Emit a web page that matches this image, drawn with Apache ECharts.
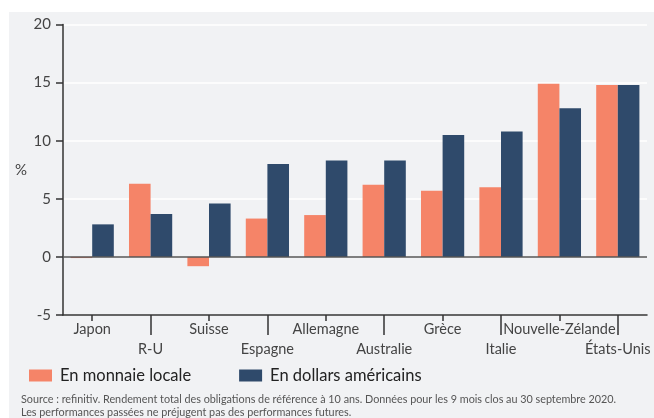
<!DOCTYPE html>
<html>
<head>
<meta charset="utf-8">
<script src="https://cdn.jsdelivr.net/npm/echarts@6/dist/echarts.min.js"></script>
<style>
    html, body { margin: 0; padding: 0; background: #fff; }
    #chart { width: 654px; height: 418px; }
</style>
</head>
<body>
<div id="chart"></div>
<script>
    // données (en %)
    var pays = ['Japon', 'R-U', 'Suisse', 'Espagne', 'Allemagne', 'Australie', 'Grèce', 'Italie', 'Nouvelle-Zélande', 'États-Unis'];
    var monnaieLocale = [-0.1, 6.3, -0.8, 3.3, 3.6, 6.2, 5.7, 6.0, 14.9, 14.8];
    var dollarsUS = [2.8, 3.7, 4.6, 8.0, 8.3, 8.3, 10.5, 10.8, 12.8, 14.8];
    var yTicks = [-5, 0, 5, 10, 15, 20];
    var nomsSeries = ['En monnaie locale', 'En dollars américains'];

    var police = 'Lato, "Noto Sans", sans-serif';
    var pair = function (i) { return i % 2 === 0; };
    var impair = function (i) { return i % 2 === 1; };
    var traitTick = { color: '#333', width: 1.5 };

    var myChart = echarts.init(document.getElementById('chart'));
    var option = {
        animation: false,
        textStyle: { fontFamily: police },
        graphic: [
            {
                type: 'rect', z: -10,
                shape: { x: 9, y: 12, width: 645, height: 406 },
                style: { fill: '#f1f2f4' }
            },
            {
                type: 'text', left: 21, top: 393,
                style: {
                    text: 'Source : refinitiv. Rendement total des obligations de référence à 10 ans. Données pour les 9 mois clos au 30 septembre 2020.\nLes performances passées ne préjugent pas des performances futures.',
                    fill: '#555', font: '10.8px ' + police, lineHeight: 13
                }
            }
        ],
        legend: {
            data: nomsSeries,
            left: 24, top: 362,
            itemWidth: 23, itemHeight: 12, itemGap: 48,
            icon: 'rect',
            textStyle: { fontSize: 16.5, color: '#222', fontFamily: police, padding: [0, 0, 0, 3] }
        },
        grid: { left: 63, right: 7, top: 24.5, bottom: 103 },
        xAxis: [
            {
                // étiquettes du haut, petits traits
                type: 'category', data: pays, position: 'bottom',
                axisLine: { show: true, onZero: false, lineStyle: { color: '#333', width: 1.5 } },
                axisTick: { show: true, alignWithLabel: true, length: 6, interval: pair, lineStyle: traitTick },
                axisLabel: { interval: pair, margin: 7, fontSize: 14.5, color: '#444' }
            },
            {
                // étiquettes du bas, grands traits
                type: 'category', data: pays, position: 'bottom',
                axisLine: { show: true, onZero: false, lineStyle: { color: 'rgba(0,0,0,0)' } },
                axisTick: { show: true, alignWithLabel: true, length: 20, interval: impair, lineStyle: traitTick },
                axisLabel: { interval: impair, margin: 27, fontSize: 14.5, color: '#444' }
            }
        ],
        yAxis: {
            type: 'value', min: yTicks[0], max: yTicks[yTicks.length - 1], interval: 5,
            name: '%', nameLocation: 'middle', nameGap: 36, nameRotate: 0,
            nameTextStyle: { fontSize: 15, color: '#444' },
            axisLine: { show: true, onZero: false, lineStyle: { color: '#333', width: 1.5 } },
            axisTick: { show: true, length: 7, lineStyle: traitTick },
            axisLabel: { fontSize: 15, color: '#444', margin: 12 },
            splitLine: { lineStyle: { color: '#ffffff', width: 1.5 } }
        },
        series: [
            {
                name: nomsSeries[0], type: 'bar', data: monnaieLocale,
                barGap: '0%', barCategoryGap: '26%',
                itemStyle: { color: '#f58468' },
                markLine: {
                    silent: true, symbol: 'none', label: { show: false },
                    lineStyle: { color: '#555', width: 1.5, type: 'solid' },
                    data: [{ yAxis: 0 }]
                }
            },
            {
                name: nomsSeries[1], type: 'bar', data: dollarsUS,
                itemStyle: { color: '#2f4a6b' }
            }
        ]
    };
    myChart.setOption(option);
</script>
</body>
</html>
